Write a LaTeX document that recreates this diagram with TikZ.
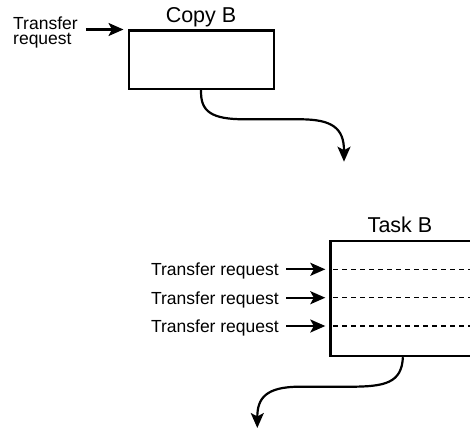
\documentclass[tikz,border=0pt]{standalone}
\usepackage{fontspec}
\setmainfont{Liberation Sans}
\usetikzlibrary{arrows.meta}
\tikzset{
  box/.style={draw, line width=2.2pt, inner sep=0pt},
  bigtext/.style={font=\fontsize{21.5}{24}\selectfont, inner sep=0pt},
  smalltext/.style={font=\fontsize{17.5}{15}\selectfont, inner sep=0pt},
  flow/.style={line width=2.2pt, -{Stealth[length=15pt,width=13pt,inset=3.5pt]}},
  slot/.style={dash pattern=on 5pt off 4pt, line width=1.5pt},
}
\begin{document}
\begin{tikzpicture}[x=1pt,y=-1pt]
\useasboundingbox (0,0) rectangle (470,428);
\clip (0,0) rectangle (470,428);
% Copy B
\node[box, minimum width=145pt, minimum height=58pt, anchor=north west] (copyB) at (127.5,29.5) {};
\node[bigtext, anchor=base] (copyLabel) at (201,22.7) {Copy B};
\node[smalltext, align=left, anchor=base west] (req) at (13,44.5) {Transfer\\request};
\draw[flow] ([xshift=8pt]req.east |- copyB.north west) -- ([xshift=-4pt]copyB.north west);
\draw[flow] (copyB.south) .. controls (200,112) and (212,119.3) .. (245,119.3)
  -- (300,119.3) .. controls (332,119.3) and (344,128) .. (344,161.7);
% Task B
\node[box, minimum width=145pt, minimum height=115pt, anchor=north west] (taskB) at (329.3,240) {};
\node[bigtext, anchor=base] (taskLabel) at (400,232.7) {Task B};
\foreach \y [count=\i] in {269.3,297.7,326} {
  \node[smalltext, anchor=base east] (req\i) at (279,\y+6.5) {Transfer request};
  \draw[flow] ([xshift=7pt]req\i.east |- 0,\y) -- ([xshift=-4pt]taskB.west |- 0,\y);
  \draw[slot] ([xshift=4pt]taskB.west |- 0,\y) -- (470,\y);
}
\draw[flow] (taskB.south) .. controls (401.7,383) and (385,386.7) .. (350,386.7)
  -- (300,386.7) .. controls (266,386.7) and (257.3,398) .. (257.3,428);
\end{tikzpicture}
\end{document}
